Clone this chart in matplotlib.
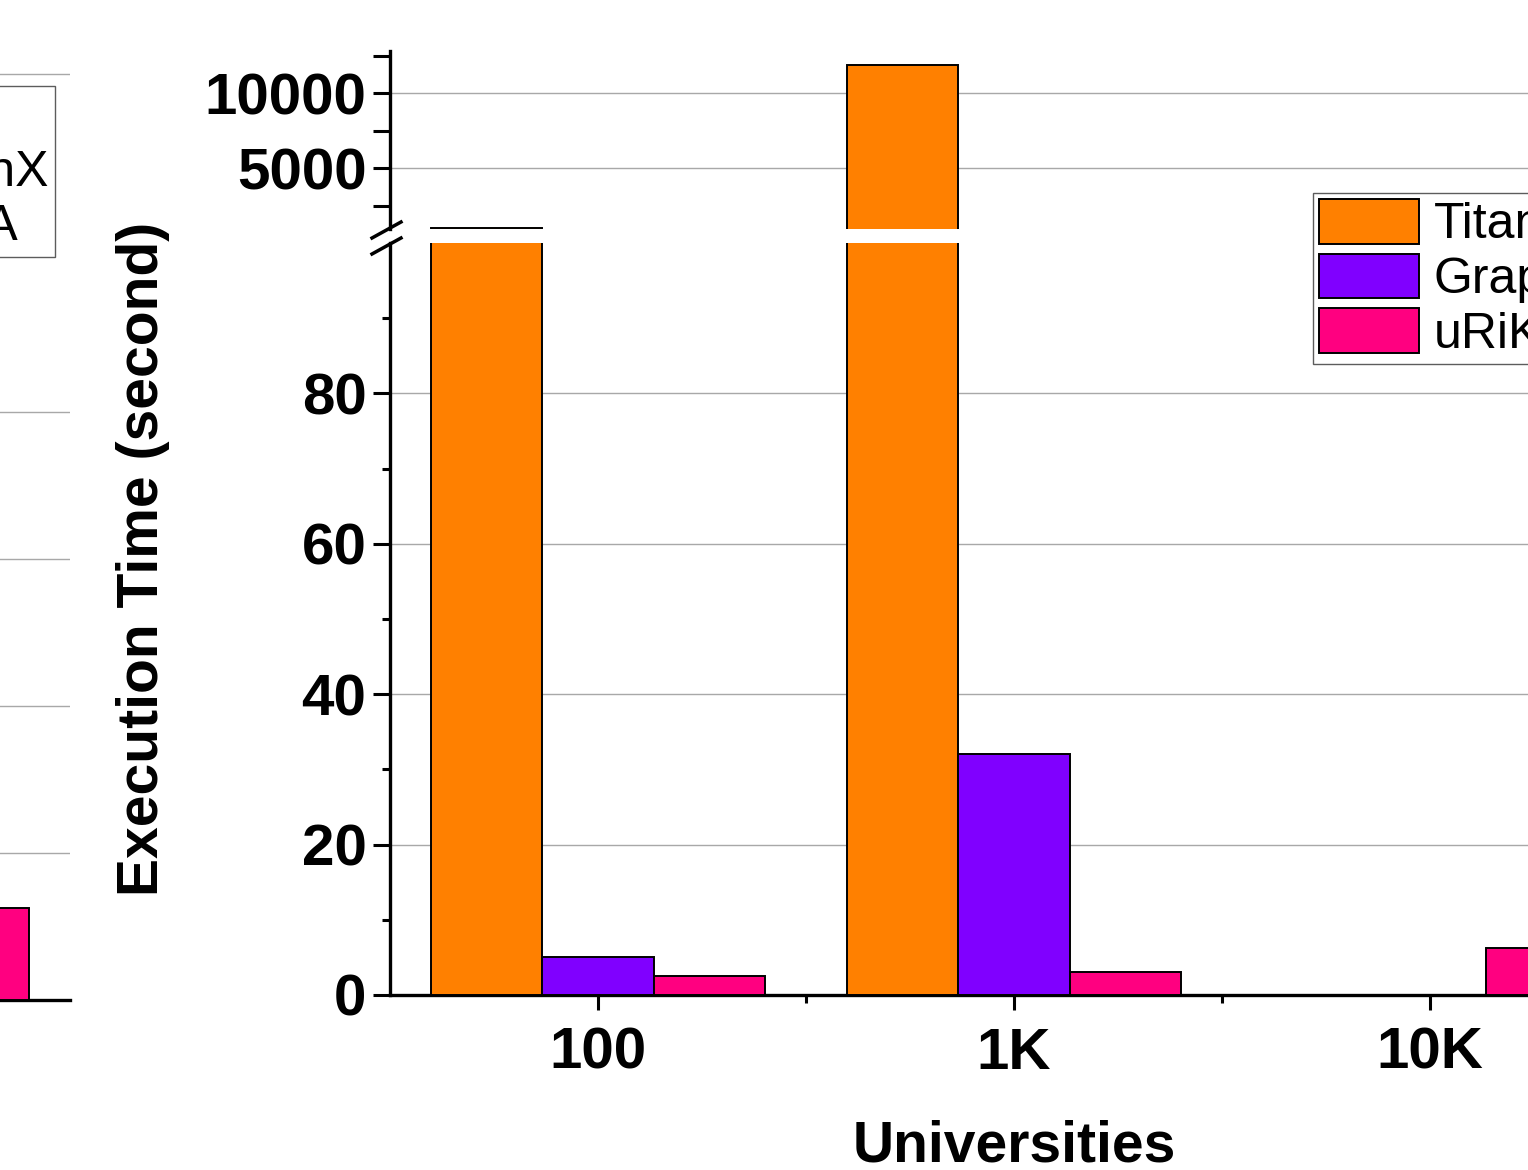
import numpy as np
import matplotlib.pyplot as plt
from matplotlib.lines import Line2D

plt.rcParams['font.family'] = ['Liberation Sans', 'DejaVu Sans']

# data
categories = ['100', '1K', '10K']
series = ['Titan', 'GraphX', 'uRiKA']
colors = ['#FF8000', '#8000FF', '#FF0080']
titan = [1000, 11900, np.nan]
graphx = [5.0, 32.0, np.nan]
urika = [2.5, 3.1, 6.3]
# neighbouring panel, only its last uRiKA bar is in frame
left_urika = [np.nan, np.nan, 12.5]

W, H = 1528, 1170
fig = plt.figure(figsize=(W / 100, H / 100), dpi=100)


def box(x0, y0, x1, y1):
    # pixel box (top-left origin) -> figure fraction rect
    return [x0 / W, 1 - y1 / H, (x1 - x0) / W, (y1 - y0) / H]


x = np.arange(len(categories))
bw = 0.267
offsets = [-bw, 0, bw]
values = [titan, graphx, urika]

ax_lo = fig.add_axes(box(390, 243, 1638, 995))
ax_hi = fig.add_axes(box(390, 51, 1638, 229), sharex=ax_lo)

for ax in (ax_lo, ax_hi):
    for vals, off, c, name in zip(values, offsets, colors, series):
        ax.bar(x + off, vals, width=bw, color=c, edgecolor='black',
               linewidth=1.4, label=name, zorder=3)
    ax.set_axisbelow(True)
    ax.yaxis.grid(True, color='#A8A8A8', linewidth=1.0)
    for s in ('top', 'right'):
        ax.spines[s].set_visible(False)
    ax.spines['left'].set_linewidth(2.4)
    ax.spines['bottom'].set_linewidth(2.4)
    ax.set_xlim(-0.5, 2.5)
    ax.tick_params(axis='y', which='major', direction='out', length=12,
                   width=2.2, labelsize=42, pad=5)

ax_lo.set_ylim(0, 100)
ax_lo.set_yticks([0, 20, 40, 60, 80])
ax_lo.set_yticks([10, 30, 50, 70, 90], minor=True)
ax_lo.tick_params(axis='y', which='minor', direction='out', length=6, width=2.2)
ax_lo.set_xticks(x)
ax_lo.set_xticklabels(categories)
ax_lo.set_xticks([0.5, 1.5], minor=True)
ax_lo.tick_params(axis='x', which='major', direction='out', length=11,
                  width=2.2, labelsize=42, pad=12)
ax_lo.tick_params(axis='x', which='minor', direction='out', length=6, width=2.2)
for lab in ax_lo.get_xticklabels() + ax_lo.get_yticklabels():
    lab.set_fontweight('bold')
ax_lo.set_xlabel('Universities', fontsize=41, fontweight='bold', labelpad=28)

ax_hi.set_ylim(950, 12800)
ax_hi.set_yticks([5000, 10000])
ax_hi.set_yticks([2500, 7500, 12500], minor=True)
ax_hi.tick_params(axis='y', which='minor', direction='out', length=12, width=2.2)
ax_hi.spines['bottom'].set_visible(False)
ax_hi.tick_params(axis='x', which='both', bottom=False, labelbottom=False)
for lab in ax_hi.get_yticklabels():
    lab.set_fontweight('bold')

# break marks on the y axis
for yb in (238, 254):
    fig.add_artist(Line2D([372 / W, 401 / W], [1 - yb / H, 1 - (yb - 16) / H],
                          color='black', linewidth=2.5))

fig.text(143 / W, 1 - 559 / H, 'Execution Time (second)', rotation=90,
         fontsize=41, fontweight='bold', ha='center', va='center')

leg_kw = dict(fontsize=36, frameon=True, fancybox=False, shadow=False,
              handlelength=2.0, handleheight=1.0, handletextpad=0.3,
              labelspacing=0.1, borderpad=0.12, borderaxespad=0)
handles, labels = ax_lo.get_legend_handles_labels()
leg = fig.legend(handles, labels, loc='upper left',
                 bbox_to_anchor=(1313 / W, 1 - 193 / H), **leg_kw)
leg.get_frame().set_edgecolor('#333333')
leg.get_frame().set_linewidth(1.0)

# neighbouring panel on the left, mostly out of frame
ax_l = fig.add_axes(box(-1178, 265, 70, 1000))
ax_l.bar(x + bw, left_urika, width=bw, color=colors[2], edgecolor='black',
         linewidth=1.4, zorder=3)
ax_l.set_xlim(-0.5, 2.5)
ax_l.set_ylim(0, 100)
ax_l.set_yticks([20, 40, 60, 80])
ax_l.set_axisbelow(True)
ax_l.yaxis.grid(True, color='#A8A8A8', linewidth=1.0)
ax_l.tick_params(left=False, bottom=False, labelleft=False, labelbottom=False)
for s in ('top', 'right', 'left'):
    ax_l.spines[s].set_visible(False)
ax_l.spines['bottom'].set_linewidth(2.4)

ax_lu = fig.add_axes(box(-1178, 50, 70, 243))
ax_lu.set_xlim(-0.5, 2.5)
ax_lu.set_ylim(950, 11300)
ax_lu.set_yticks([10000])
ax_lu.yaxis.grid(True, color='#A8A8A8', linewidth=1.0)
ax_lu.tick_params(left=False, bottom=False, labelleft=False, labelbottom=False)
for s in ax_lu.spines.values():
    s.set_visible(False)

lh = [plt.Rectangle((0, 0), 1, 1, facecolor=c, edgecolor='black', linewidth=1.4)
      for c in colors]
leg2 = fig.legend(lh, series, loc='upper right',
                  bbox_to_anchor=(55 / W, 1 - 86 / H), **leg_kw)
leg2.get_frame().set_edgecolor('#333333')
leg2.get_frame().set_linewidth(1.0)

fig.savefig('out.png', dpi=100)
